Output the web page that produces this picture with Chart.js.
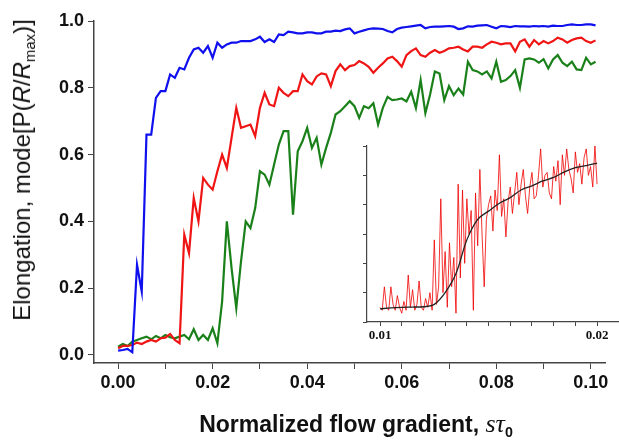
<!DOCTYPE html>
<html>
<head>
<meta charset="utf-8">
<script src="https://cdn.jsdelivr.net/npm/chart.js@4.4.0/dist/chart.umd.min.js"></script>
<style>
  html, body { margin: 0; padding: 0; background: #fff; }
  #wrap { position: relative; width: 619px; height: 441px; overflow: hidden; background: #fff; }
  canvas { position: absolute; }
  #main { left: 0; top: 0; }
  #inset { left: 350px; top: 135px; }
  #ytitle { position: absolute; left: 22px; top: 170px; transform: translate(-50%, -50%) rotate(-90deg);
            white-space: nowrap; font: 24px "Liberation Sans", Arial, sans-serif; color: #111; }
  #xtitle { position: absolute; left: 356px; top: 424px; transform: translate(-50%, -50%);
            white-space: nowrap; font: bold 23px "Liberation Sans", Arial, sans-serif; color: #111; }
  .it { font-style: italic; }
  .ser { font-family: "Liberation Serif", "Times New Roman", serif; font-style: italic; font-weight: normal; font-size: 26px; }
  sub { font-size: 0.62em; vertical-align: -0.35em; line-height: 0; }
</style>
</head>
<body>
<div id="wrap">
  <canvas id="main" width="619" height="441"></canvas>
  <canvas id="inset" width="269" height="210"></canvas>
  <div id="ytitle">Elongation, mode[P(<span class="it">R</span>/<span class="it">R</span><sub>max</sub>)]</div>
  <div id="xtitle">Normalized flow gradient, <span class="ser">sτ</span><sub>0</sub></div>
</div>
<script>
// ---------- main chart data ----------
const gradient = [0.000,0.001,0.002,0.003,0.004,0.005,0.006,0.007,0.008,0.009,
  0.010,0.011,0.012,0.013,0.014,0.015,0.016,0.017,0.018,0.019,
  0.020,0.021,0.022,0.023,0.024,0.025,0.026,0.027,0.028,0.029,
  0.030,0.031,0.032,0.033,0.034,0.035,0.036,0.037,0.038,0.039,
  0.040,0.041,0.042,0.043,0.044,0.045,0.046,0.047,0.048,0.049,
  0.050,0.051,0.052,0.053,0.054,0.055,0.056,0.057,0.058,0.059,
  0.060,0.061,0.062,0.063,0.064,0.065,0.066,0.067,0.068,0.069,
  0.070,0.071,0.072,0.073,0.074,0.075,0.076,0.077,0.078,0.079,
  0.080,0.081,0.082,0.083,0.084,0.085,0.086,0.087,0.088,0.089,
  0.090,0.091,0.092,0.093,0.094,0.095,0.096,0.097,0.098,0.099,
  0.100,0.101];

const blueElong = [0.013,0.015,0.018,0.008,0.27,0.19,0.66,0.66,0.77,0.79,
  0.79,0.84,0.83,0.86,0.855,0.89,0.915,0.92,0.905,0.925,
  0.89,0.935,0.92,0.93,0.935,0.935,0.94,0.94,0.94,0.945,
  0.953,0.937,0.945,0.937,0.96,0.958,0.968,0.966,0.963,0.963,
  0.966,0.966,0.963,0.963,0.968,0.968,0.971,0.97,0.975,0.978,
  0.963,0.968,0.972,0.976,0.978,0.977,0.976,0.97,0.966,0.976,
  0.98,0.982,0.984,0.986,0.988,0.978,0.982,0.983,0.983,0.984,
  0.985,0.983,0.976,0.978,0.984,0.983,0.986,0.987,0.988,0.983,
  0.978,0.985,0.984,0.982,0.985,0.984,0.984,0.983,0.985,0.984,
  0.985,0.983,0.986,0.985,0.985,0.988,0.99,0.988,0.988,0.99,
  0.99,0.987];

const redElong = [0.02,0.027,0.027,0.03,0.037,0.033,0.04,0.045,0.04,0.05,
  0.052,0.063,0.045,0.035,0.36,0.305,0.47,0.40,0.53,0.51,
  0.495,0.55,0.60,0.56,0.65,0.74,0.68,0.685,0.69,0.655,
  0.74,0.785,0.75,0.745,0.80,0.785,0.775,0.79,0.79,0.84,
  0.82,0.81,0.834,0.843,0.84,0.805,0.85,0.87,0.853,0.865,
  0.868,0.88,0.873,0.863,0.845,0.86,0.873,0.888,0.893,0.88,
  0.863,0.898,0.91,0.918,0.898,0.893,0.905,0.913,0.905,0.91,
  0.918,0.92,0.923,0.915,0.909,0.923,0.923,0.92,0.93,0.938,
  0.935,0.93,0.933,0.933,0.909,0.938,0.945,0.923,0.943,0.93,
  0.94,0.933,0.94,0.95,0.945,0.935,0.943,0.948,0.95,0.94,
  0.935,0.942];

const greenElong = [0.025,0.033,0.027,0.04,0.045,0.05,0.055,0.047,0.057,0.05,
  0.06,0.053,0.05,0.055,0.06,0.047,0.077,0.045,0.06,0.045,
  0.08,0.035,0.16,0.40,0.26,0.14,0.28,0.40,0.38,0.44,
  0.55,0.54,0.51,0.57,0.63,0.67,0.67,0.42,0.61,0.64,
  0.68,0.62,0.65,0.57,0.62,0.665,0.72,0.73,0.745,0.76,
  0.745,0.71,0.745,0.739,0.754,0.69,0.74,0.773,0.763,0.765,
  0.768,0.759,0.788,0.739,0.823,0.724,0.78,0.849,0.843,0.763,
  0.805,0.778,0.798,0.78,0.878,0.853,0.849,0.84,0.849,0.828,
  0.878,0.818,0.823,0.835,0.853,0.80,0.885,0.888,0.885,0.875,
  0.886,0.858,0.885,0.898,0.875,0.865,0.878,0.855,0.853,0.89,
  0.87,0.878];

const mainXTicks = [0.00,0.01,0.02,0.03,0.04,0.05,0.06,0.07,0.08,0.09,0.10];
const mainYTicks = [0.0,0.2,0.4,0.6,0.8,1.0];

// ---------- inset data ----------
const insetGradient = [0.0100,0.0101,0.0102,0.0103,0.0104,0.0105,0.0106,0.0107,0.0108,0.0109,
  0.0110,0.0111,0.0112,0.0113,0.0114,0.0115,0.0116,0.0117,0.0118,0.0119,
  0.0120,0.0121,0.0122,0.0123,0.0124,0.0125,0.0126,0.0127,0.0128,0.0129,
  0.0130,0.0131,0.0132,0.0133,0.0134,0.0135,0.0136,0.0137,0.0138,0.0139,
  0.0140,0.0141,0.0142,0.0143,0.0144,0.0145,0.0146,0.0147,0.0148,0.0149,
  0.0150,0.0151,0.0152,0.0153,0.0154,0.0155,0.0156,0.0157,0.0158,0.0159,
  0.0160,0.0161,0.0162,0.0163,0.0164,0.0165,0.0166,0.0167,0.0168,0.0169,
  0.0170,0.0171,0.0172,0.0173,0.0174,0.0175,0.0176,0.0177,0.0178,0.0179,
  0.0180,0.0181,0.0182,0.0183,0.0184,0.0185,0.0186,0.0187,0.0188,0.0189,
  0.0190,0.0191,0.0192,0.0193,0.0194,0.0195,0.0196,0.0197,0.0198,0.0199,
  0.0200];

const insetRaw = [0.05,0.04,0.12,0.05,0.04,0.12,0.06,0.04,0.09,0.05,
  0.03,0.07,0.04,0.16,0.05,0.11,0.04,0.06,0.14,0.05,
  0.04,0.08,0.05,0.10,0.04,0.28,0.06,0.12,0.42,0.10,
  0.24,0.05,0.27,0.12,0.22,0.03,0.47,0.15,0.45,0.20,
  0.42,0.30,0.38,0.04,0.44,0.26,0.52,0.30,0.12,0.35,
  0.40,0.43,0.31,0.45,0.38,0.57,0.36,0.42,0.29,0.41,
  0.46,0.37,0.44,0.51,0.40,0.47,0.52,0.43,0.37,0.46,
  0.51,0.42,0.43,0.50,0.59,0.46,0.50,0.51,0.44,0.42,
  0.53,0.48,0.55,0.40,0.57,0.50,0.59,0.52,0.49,0.44,
  0.58,0.51,0.54,0.47,0.56,0.59,0.50,0.53,0.46,0.60,
  0.47];

const fitGradient = [0.0100,0.0105,0.0110,0.0115,0.0120,0.0125,0.0130,0.0135,0.0140,0.0145,
  0.0150,0.0155,0.0160,0.0165,0.0170,0.0175,0.0180,0.0185,0.0190,0.0195,0.0200];
const fitValues = [0.045,0.048,0.050,0.051,0.052,0.060,0.100,0.165,0.280,0.350,
  0.378,0.405,0.424,0.450,0.464,0.481,0.493,0.512,0.526,0.533,0.542];

const insetXTicks = [0.010,0.011,0.012,0.013,0.014,0.015,0.016,0.017,0.018,0.019,0.020];
const insetXLabels = ['0.01','','','','','','','','','','0.02'];
const insetYTicks = [0.0,0.1,0.2,0.3,0.4,0.5,0.6];

// ---------- build ----------
const pts = (xs, ys) => xs.map((x, i) => ({ x: x, y: ys[i] }));
const axisColor = '#444';
const tickFont = { family: '"Liberation Sans", Arial, sans-serif', weight: 'bold', size: 18 };

new Chart(document.getElementById('main'), {
  type: 'line',
  data: {
    datasets: [
      { data: pts(gradient, blueElong), borderColor: '#1010ee', borderWidth: 2.2 },
      { data: pts(gradient, redElong), borderColor: '#f01515', borderWidth: 2.2 },
      { data: pts(gradient, greenElong), borderColor: '#1a801a', borderWidth: 2.2 }
    ]
  },
  options: {
    responsive: false, animation: false, devicePixelRatio: 1,
    elements: { point: { radius: 0 }, line: { tension: 0 } },
    layout: { padding: { left: 0, top: 21, right: 14, bottom: 0 } },
    plugins: { legend: { display: false }, tooltip: { enabled: false } },
    scales: {
      x: {
        type: 'linear', min: -0.0051, max: 0.1030,
        afterBuildTicks: s => { s.ticks = mainXTicks.map(v => ({ value: v })); },
        afterFit: s => { s.height = 78; },
        border: { display: true, color: axisColor, width: 1.5 },
        grid: { display: true, drawOnChartArea: false, drawTicks: true, tickLength: 6, color: axisColor, lineWidth: 1 },
        ticks: { autoSkip: false, maxRotation: 0, padding: 3, color: '#111', font: tickFont,
          callback: (v, i) => (i % 2 === 0 ? mainXTicks[i].toFixed(2) : '') }
      },
      y: {
        type: 'linear', min: -0.024, max: 1.0,
        afterBuildTicks: s => { s.ticks = mainYTicks.map(v => ({ value: v })); },
        afterFit: s => { s.width = 94; },
        border: { display: true, color: axisColor, width: 1.5 },
        grid: { display: true, drawOnChartArea: false, drawTicks: true, tickLength: 6, color: axisColor, lineWidth: 1 },
        ticks: { autoSkip: false, padding: 4, color: '#111', font: tickFont,
          callback: (v, i) => mainYTicks[i].toFixed(1) }
      }
    }
  }
});

new Chart(document.getElementById('inset'), {
  type: 'line',
  data: {
    datasets: [
      { data: pts(fitGradient, fitValues), borderColor: '#222', borderWidth: 1.3, tension: 0.35 },
      { data: pts(insetGradient, insetRaw), borderColor: 'rgba(240,0,0,0.8)', borderWidth: 1, tension: 0 }
    ]
  },
  options: {
    responsive: false, animation: false, devicePixelRatio: 1,
    elements: { point: { radius: 0 } },
    layout: { padding: { left: 0, top: 11, right: 0, bottom: 0 } },
    plugins: { legend: { display: false }, tooltip: { enabled: false } },
    scales: {
      x: {
        type: 'linear', min: 0.0094, max: 0.02101,
        afterBuildTicks: s => { s.ticks = insetXTicks.map(v => ({ value: v })); },
        afterFit: s => { s.height = 23; },
        border: { display: true, color: axisColor, width: 1.2 },
        grid: { display: true, drawOnChartArea: false, drawTicks: true, tickLength: 4, color: axisColor, lineWidth: 1 },
        ticks: { autoSkip: false, maxRotation: 0, padding: 2, color: '#111',
          font: { family: '"Liberation Serif", "Times New Roman", serif', weight: 'bold', size: 13 },
          callback: (v, i) => insetXLabels[i] }
      },
      y: {
        type: 'linear', min: 0, max: 0.6,
        afterBuildTicks: s => { s.ticks = insetYTicks.map(v => ({ value: v })); },
        afterFit: s => { s.width = 17; },
        border: { display: true, color: axisColor, width: 1.2 },
        grid: { display: true, drawOnChartArea: false, drawTicks: true, tickLength: 4, color: axisColor, lineWidth: 1 },
        ticks: { display: true, autoSkip: false, color: '#111', padding: 0, font: { size: 1 }, callback: () => '' }
      }
    }
  }
});
</script>
</body>
</html>
